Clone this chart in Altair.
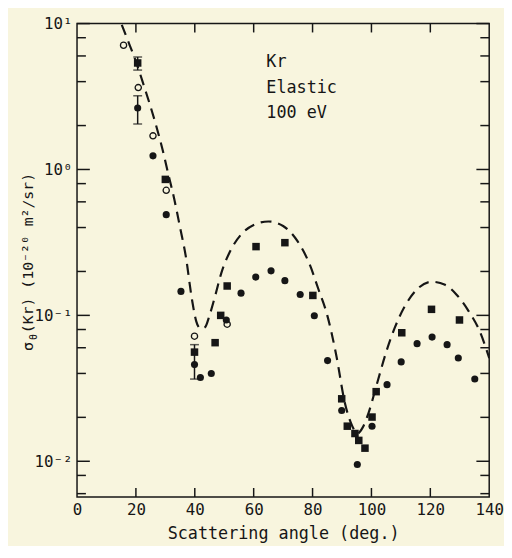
import altair as alt
import pandas as pd

# ---- data ----
# filled circles
fc_x = [20.6, 25.8, 30.3, 35.3, 39.9, 41.9, 45.6, 50.7, 55.7, 60.7, 65.9, 70.6, 75.8,
        80.6, 85.1, 89.9, 95.2, 100.2, 105.3, 110.1, 115.5, 120.6, 125.7, 129.5, 135.1]
fc_y = [2.64, 1.24, 0.49, 0.146, 0.046, 0.0375, 0.040, 0.093, 0.142, 0.183, 0.202, 0.173, 0.139,
        0.0995, 0.049, 0.0223, 0.0095, 0.0174, 0.0335, 0.048, 0.064, 0.071, 0.063, 0.051, 0.0366]
# filled squares
fs_x = [20.6, 30.0, 39.9, 46.9, 48.8, 51.0, 60.8, 70.6, 80.1, 89.9, 91.8, 94.4, 95.7,
        97.8, 100.2, 101.6, 110.3, 120.4, 129.9]
fs_y = [5.37, 0.855, 0.056, 0.065, 0.100, 0.159, 0.296, 0.315, 0.137, 0.0268, 0.0174, 0.0155,
        0.0139, 0.0123, 0.0201, 0.030, 0.076, 0.110, 0.093]
# open circles
oc_x = [15.8, 20.8, 25.8, 30.3, 39.9, 51.0]
oc_y = [7.1, 3.64, 1.70, 0.72, 0.072, 0.087]
# error bars
err_x = [20.6, 20.6, 39.9]
err_lo = [4.8, 2.05, 0.0366]
err_hi = [5.9, 3.2, 0.063]
# theory (dashed)
th_x = [15.2, 17.0, 20.0, 23.0, 26.0, 29.0, 31.0, 33.0, 35.0, 37.0, 39.0, 40.5, 42.0, 43.5,
        45.0, 47.0, 49.0, 52.0, 56.0, 60.0, 65.0, 70.0, 75.0, 79.0, 82.0, 85.0, 88.0, 91.0,
        93.5, 95.3, 97.0, 99.0, 102.0, 105.0, 108.0, 111.5, 115.5, 120.5, 125.0, 129.0,
        133.0, 137.0, 140.0]
th_y = [9.8, 7.9, 5.5, 3.6, 2.3, 1.38, 0.93, 0.63, 0.40, 0.25, 0.13, 0.091, 0.081, 0.083,
        0.10, 0.138, 0.195, 0.275, 0.363, 0.417, 0.44, 0.41, 0.32, 0.224, 0.151, 0.10, 0.054,
        0.025, 0.0174, 0.0155, 0.017, 0.0214, 0.0347, 0.056, 0.083, 0.117, 0.151, 0.17,
        0.162, 0.138, 0.107, 0.076, 0.051]
# axes ticks
x_labels = [0, 20, 40, 60, 80, 100, 120, 140]
x_ticks = [20, 40, 60, 80, 100, 120]
y_major = [0.01, 0.1, 1, 10]
y_minor = [0.006, 0.008, 0.02, 0.04, 0.06, 0.08, 0.2, 0.4, 0.6, 0.8, 2, 4, 6, 8]

W, H = 418, 480
FONT = "DejaVu Sans Mono"
INK = "#161616"

xs = alt.Scale(domain=[0, 140], nice=False, zero=False)
ys = alt.Scale(type="log", domain=[0.0057, 10], nice=False)

xaxis = alt.Axis(values=x_labels, ticks=False, domain=False, grid=False,
                 title="Scattering angle (deg.)", labelFont=FONT, labelFontSize=16,
                 titleFont=FONT, titleFontSize=17, titleFontWeight="normal",
                 labelColor=INK, titleColor=INK, labelPadding=5, titlePadding=8,
                 labelFlush=False)
yaxis = alt.Axis(values=y_major, ticks=False, domain=False, grid=False, title=None,
                 labelFont=FONT, labelFontSize=16, labelColor=INK, labelPadding=5,
                 labelExpr="datum.value >= 5 ? '10¹' : datum.value >= 0.5 ? '10⁰' : datum.value >= 0.05 ? '10⁻¹' : '10⁻²'")


def X(field):
    return alt.X(field, type="quantitative", scale=xs, axis=xaxis)


def Y(field):
    return alt.Y(field, type="quantitative", scale=ys, axis=yaxis)


fc = pd.DataFrame({"x": fc_x, "y": fc_y})
fs = pd.DataFrame({"x": fs_x, "y": fs_y})
oc = pd.DataFrame({"x": oc_x, "y": oc_y})
er = pd.DataFrame({"x": err_x, "lo": err_lo, "hi": err_hi})
th = pd.DataFrame({"x": th_x, "y": th_y})
ymaj = pd.DataFrame({"v": y_major})
ymin = pd.DataFrame({"v": y_minor})
xt = pd.DataFrame({"v": x_ticks})

theory = alt.Chart(th).mark_line(color=INK, strokeWidth=2.2, strokeDash=[11, 7],
                                 interpolate="monotone", clip=True).encode(x=X("x"), y=Y("y"))
circles = alt.Chart(fc).mark_circle(size=52, color=INK, opacity=1).encode(x=X("x"), y=Y("y"))
squares = alt.Chart(fs).mark_square(size=58, color=INK, opacity=1).encode(x=X("x"), y=Y("y"))
opens = alt.Chart(oc).mark_point(shape="circle", filled=False, size=40, color=INK,
                                 strokeWidth=1.3, opacity=1).encode(x=X("x"), y=Y("y"))
ebar = alt.Chart(er).mark_rule(color=INK, strokeWidth=1.5).encode(
    x=X("x"), y=Y("lo"), y2=alt.Y2("hi"))
cap_lo = alt.Chart(er).mark_tick(color=INK, orient="horizontal", size=9, thickness=1.5).encode(
    x=X("x"), y=Y("lo"))
cap_hi = alt.Chart(er).mark_tick(color=INK, orient="horizontal", size=9, thickness=1.5).encode(
    x=X("x"), y=Y("hi"))

# inward ticks on all four sides
lt_maj = alt.Chart(ymaj).mark_rule(color=INK, strokeWidth=1.5).encode(
    y=Y("v"), x=alt.value(0), x2=alt.value(13))
lt_min = alt.Chart(ymin).mark_rule(color=INK, strokeWidth=1.5).encode(
    y=Y("v"), x=alt.value(0), x2=alt.value(9))
rt_maj = alt.Chart(ymaj).mark_rule(color=INK, strokeWidth=1.5).encode(
    y=Y("v"), x=alt.value(W), x2=alt.value(W - 13))
rt_min = alt.Chart(ymin).mark_rule(color=INK, strokeWidth=1.5).encode(
    y=Y("v"), x=alt.value(W), x2=alt.value(W - 9))
bt = alt.Chart(xt).mark_rule(color=INK, strokeWidth=1.5).encode(
    x=X("v"), y=alt.value(H), y2=alt.value(H - 9))
tt = alt.Chart(xt).mark_rule(color=INK, strokeWidth=1.5).encode(
    x=X("v"), y=alt.value(0), y2=alt.value(9))

dummy = alt.Data(values=[{}])
label = alt.Chart(dummy).mark_text(text=["Kr", "Elastic", "100 eV"], lineHeight=26,
                                   font=FONT, fontSize=17, color=INK, align="left",
                                   baseline="top").encode(x=alt.value(192), y=alt.value(31))
ytitle = alt.Chart(dummy).mark_text(text="σ  (Kr) (10⁻²⁰ m²/sr)", angle=270, align="left",
                                    baseline="middle", font=FONT, fontSize=15,
                                    color=INK).encode(x=alt.value(-50), y=alt.value(332))
ysub = alt.Chart(dummy).mark_text(text="θ", angle=270, align="center", baseline="middle",
                                  font=FONT, fontSize=10, color=INK).encode(
    x=alt.value(-44), y=alt.value(318))

chart = alt.layer(
    theory, ebar, cap_lo, cap_hi, circles, squares, opens,
    lt_maj, lt_min, rt_maj, rt_min, bt, tt, label, ytitle, ysub
).properties(
    width=W, height=H,
    padding={"left": 70, "top": 12, "right": 15, "bottom": 46},
    autosize=alt.AutoSizeParams(type="none"),
).configure(background="#f8f5de").configure_view(stroke=INK, strokeWidth=1.5)

chart.save("out.html", embed_options={"renderer": "svg", "actions": False})
